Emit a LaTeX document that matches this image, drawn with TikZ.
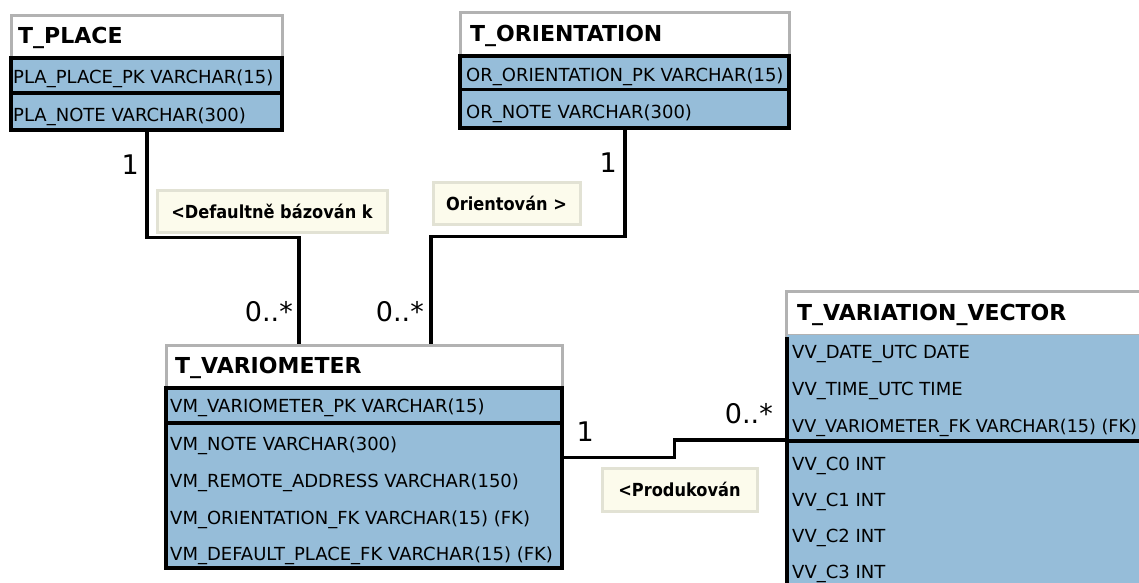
\documentclass[tikz,border=0pt]{standalone}
\usepackage{fontspec}
\setmainfont{DejaVu Sans}
\newfontfamily\notefont[FakeStretch=0.9]{DejaVu Sans}
\usetikzlibrary{calc}
\definecolor{fieldblue}{RGB}{150,189,217}
\definecolor{hdrgray}{RGB}{178,178,178}
\definecolor{notefill}{RGB}{252,251,236}
\definecolor{noteline}{RGB}{226,226,212}

\begin{document}
\begin{tikzpicture}[x=1pt,y=-1pt,
  hdr/.style={draw=hdrgray, fill=white, line width=3pt, anchor=north west, inner sep=0pt, outer sep=0pt},
  comp/.style={draw=black, fill=fieldblue, line width=3.5pt, anchor=north west, inner sep=0pt, outer sep=0pt},
  title/.style={anchor=base west, inner sep=0pt, font=\fontsize{22}{24}\selectfont\bfseries},
  field/.style={anchor=base west, inner sep=0pt, font=\fontsize{18}{20}\selectfont},
  mult/.style={anchor=base east, inner sep=0pt, font=\fontsize{27}{30}\selectfont},
  note/.style={draw=noteline, fill=notefill, line width=3pt, inner sep=0pt, font=\notefont\fontsize{18}{20}\selectfont\bfseries},
  conn/.style={draw=black, line width=3.5pt}]

\useasboundingbox (0,0) rectangle (1139,582);
\fill[white] (0,0) rectangle (1139,582);
\clip (0,0) rectangle (1139,582);

% ---------- connector end points on the tables ----------
\coordinate (placeOut) at (147,130);
\coordinate (orientOut) at (625,128);
\coordinate (varioInA) at (299,345);
\coordinate (varioInB) at (431,345);
\coordinate (varioOut) at (562,457.5);
\coordinate (vectorIn) at (787,440);

% ---------- connectors ----------
\draw[conn] (placeOut) |- ($(placeOut)!.5!(varioInA)$) -| (varioInA);
\draw[conn] (orientOut) |- ($(orientOut)!.5!(varioInB)$) -| (varioInB);
\draw[conn] (varioOut) -| ($(varioOut)!.5!(vectorIn)$) |- (vectorIn);

% ---------- T_PLACE ----------
\node[hdr, minimum width=271pt, minimum height=43pt] (placeHead) at (11,15) {};
\node[comp, minimum width=271pt, minimum height=35pt] (placeKey) at (11,58) {};
\node[comp, minimum width=271pt, minimum height=37pt] (placeCols) at (11,93) {};
\node[title] (placeTitle) at (18,43) {T\_PLACE};
\node[field] (placeF1) at (13,83) {PLA\_PLACE\_PK VARCHAR(15)};
\node[field] (placeF2) at (13,121) {PLA\_NOTE VARCHAR(300)};

% ---------- T_ORIENTATION ----------
\node[hdr, minimum width=329pt, minimum height=44pt] (orientHead) at (460,12) {};
\node[comp, minimum width=329pt, minimum height=33.5pt] (orientKey) at (460,56) {};
\node[comp, minimum width=329pt, minimum height=38.5pt] (orientCols) at (460,89.5) {};
\node[title] (orientTitle) at (470,41) {T\_ORIENTATION};
\node[field] (orientF1) at (466,81) {OR\_ORIENTATION\_PK VARCHAR(15)};
\node[field] (orientF2) at (466,118) {OR\_NOTE VARCHAR(300)};

% ---------- T_VARIOMETER ----------
\node[hdr, minimum width=396pt, minimum height=43pt] (varioHead) at (166,345) {};
\node[comp, minimum width=396pt, minimum height=35pt] (varioKey) at (166,388) {};
\node[comp, minimum width=396pt, minimum height=145pt] (varioCols) at (166,423) {};
\node[title] (varioTitle) at (175,373) {T\_VARIOMETER};
\node[field] (varioF1) at (170,412) {VM\_VARIOMETER\_PK VARCHAR(15)};
\node[field] (varioF2) at (170,450) {VM\_NOTE VARCHAR(300)};
\node[field] (varioF3) at (170,487) {VM\_REMOTE\_ADDRESS VARCHAR(150)};
\node[field] (varioF4) at (170,524) {VM\_ORIENTATION\_FK VARCHAR(15) (FK)};
\node[field] (varioF5) at (170,560) {VM\_DEFAULT\_PLACE\_FK VARCHAR(15) (FK)};

% ---------- T_VARIATION_VECTOR ----------
\node[hdr, minimum width=400pt, minimum height=44pt] (vectorHead) at (786.5,291) {};
\node[anchor=north west, fill=fieldblue, inner sep=0pt, outer sep=0pt,
      minimum width=400pt, minimum height=270pt] (vectorKey) at (787,334.5) {};
\draw[conn] ($(vectorKey.north west)+(0,2.5)$) -- (vectorKey.south west);
\node[comp, minimum width=400pt, minimum height=200pt] (vectorCols) at (787,441) {};
\node[title] (vectorTitle) at (797,320) {T\_VARIATION\_VECTOR};
\node[field] (vectorF1) at (792,358) {VV\_DATE\_UTC DATE};
\node[field] (vectorF2) at (792,395) {VV\_TIME\_UTC TIME};
\node[field, font=\fontsize{17.6}{20}\selectfont] (vectorF3) at (792,432) {VV\_VARIOMETER\_FK VARCHAR(15) (FK)};
\node[field] (vectorF4) at (792,470) {VV\_C0 INT};
\node[field] (vectorF5) at (792,506) {VV\_C1 INT};
\node[field] (vectorF6) at (792,542) {VV\_C2 INT};
\node[field] (vectorF7) at (792,578) {VV\_C3 INT};

% ---------- multiplicities ----------
\node[mult] (multPlace) at (139,174) {1};
\node[mult] (multVarioA) at (293,321) {0..*};
\node[mult] (multVarioB) at (424,321) {0..*};
\node[mult] (multOrient) at (617,172) {1};
\node[mult] (multVarioOut) at (594,441) {1};
\node[mult] (multVector) at (773,423) {0..*};

% ---------- association names ----------
\node[note, minimum width=230pt, minimum height=42pt] (notePlace) at (272,211) {<Defaultně bázován k};
\node[note, minimum width=147pt, minimum height=42pt] (noteOrient) at (506.5,203) {Orientován >};
\node[note, minimum width=155pt, minimum height=43pt] (noteVector) at (679.5,489.5) {<Produkován};

\end{tikzpicture}
\end{document}
